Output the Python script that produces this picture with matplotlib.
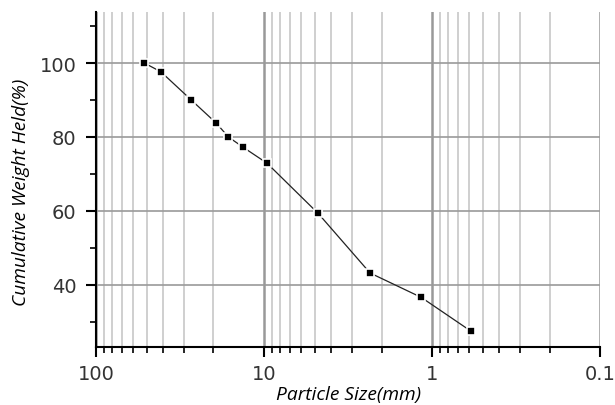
import matplotlib
matplotlib.use("Agg")
import matplotlib.pyplot as plt
from matplotlib.ticker import FixedLocator, FuncFormatter, LogLocator, NullFormatter

# sieve sizes (mm) and cumulative weight held (%)
size = [51.5, 41.0, 27.1, 19.2, 16.3, 13.3, 9.6, 4.76, 2.34, 1.16, 0.589]
held = [100, 97.6, 90.0, 83.7, 80.0, 77.2, 72.9, 59.3, 43.2, 36.6, 27.5]
xticks = [100, 10, 1, 0.1]
yticks = [40, 60, 80, 100]

fig = plt.figure(figsize=(6.15, 4.06), dpi=100)
ax = fig.add_axes([0.156, 0.143, 0.82, 0.825])

ax.set_xscale("log")
ax.set_xlim(100, 0.1)
ax.set_ylim(23.2, 113.8)

# grid
ax.xaxis.set_major_locator(FixedLocator(xticks))
ax.xaxis.set_major_formatter(FuncFormatter(lambda v, p: "%g" % v))
ax.xaxis.set_minor_locator(LogLocator(base=10, subs=range(2, 10)))
ax.xaxis.set_minor_formatter(NullFormatter())
ax.yaxis.set_major_locator(FixedLocator(yticks))
ax.yaxis.set_minor_locator(FixedLocator([30, 50, 70, 90, 110]))

ax.grid(which="minor", axis="x", color="#cfcfcf", lw=1.4)
ax.grid(which="major", axis="x", color="#999999", lw=1.8)
ax.grid(which="major", axis="y", color="#9a9a9a", lw=1.2)
ax.set_axisbelow(True)

ax.plot(size, held, color="#222222", lw=0.9, marker="s", ms=5.8,
        mfc="black", mec="white", mew=1.2, zorder=3)

for s in ["top", "right"]:
    ax.spines[s].set_visible(False)
for s in ["left", "bottom"]:
    ax.spines[s].set_linewidth(1.5)

ax.tick_params(which="major", length=7, width=1.5, labelsize=14,
               labelcolor="#333333")
ax.tick_params(which="minor", length=4, width=1.2)
ax.tick_params(axis="y", pad=7)
ax.tick_params(axis="x", pad=5)

ax.set_xlabel("Particle Size(mm)", fontsize=13.8, style="italic",
              family="Open Sans", labelpad=2)
ax.set_ylabel("Cumulative Weight Held(%)", fontsize=13.8, style="italic",
              family="Open Sans")
ax.yaxis.set_label_coords(-0.131, 0.466)

fig.savefig("out.png", dpi=100)
